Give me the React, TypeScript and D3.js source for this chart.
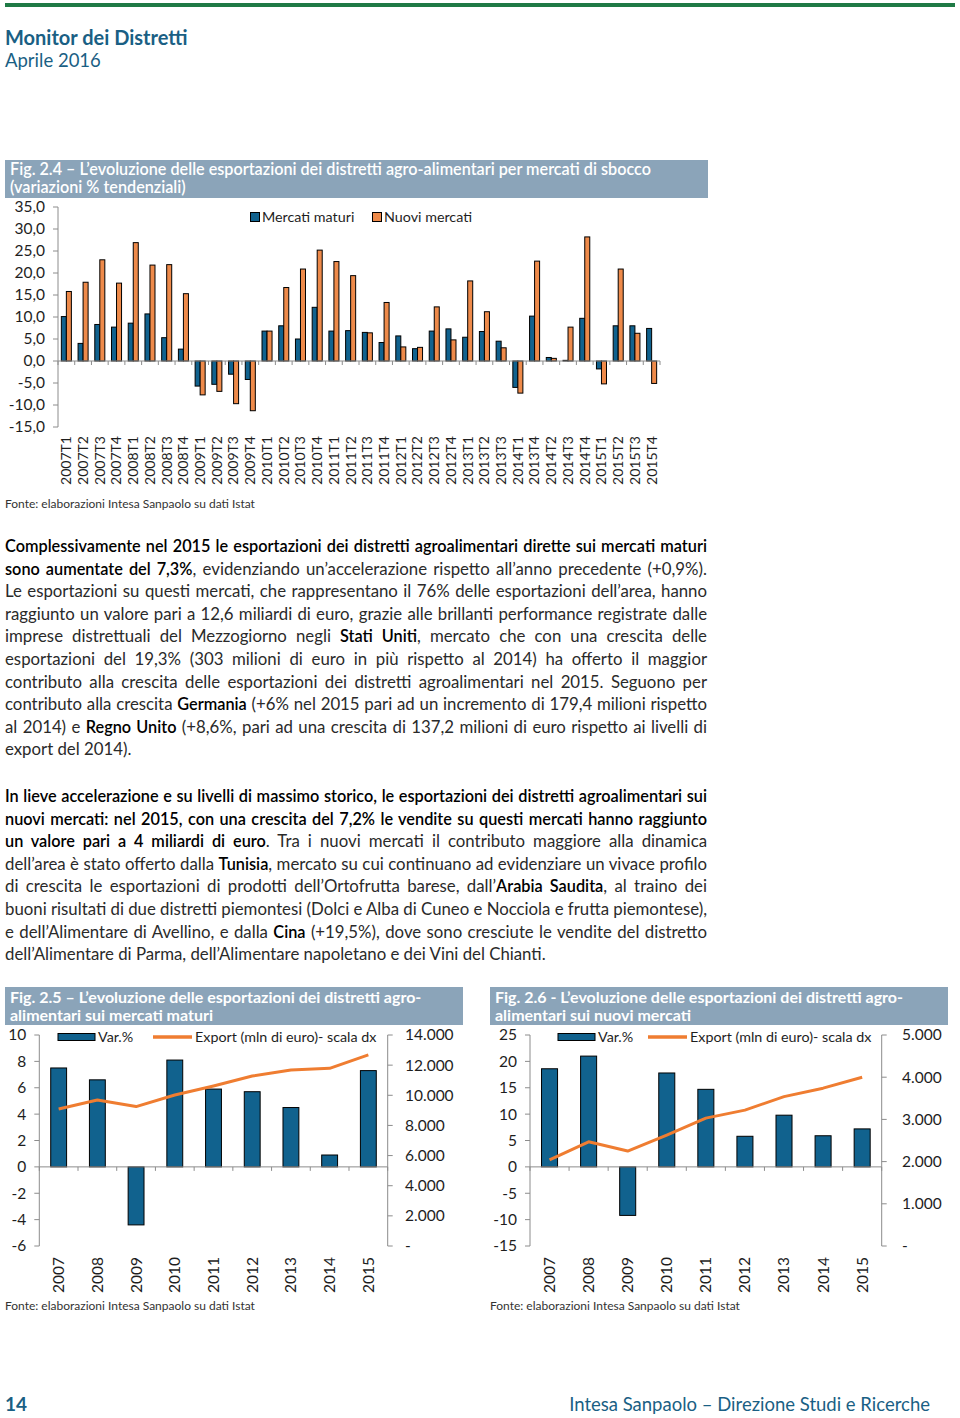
import React, { useLayoutEffect, useRef } from "react";
import * as d3 from "d3";

// ---------- DATA ----------
const quarters = [
  "2007T1", "2007T2", "2007T3", "2007T4",
  "2008T1", "2008T2", "2008T3", "2008T4",
  "2009T1", "2009T2", "2009T3", "2009T4",
  "2010T1", "2010T2", "2010T3", "2010T4",
  "2011T1", "2011T2", "2011T3", "2011T4",
  "2012T1", "2012T2", "2012T3", "2012T4",
  "2013T1", "2013T2", "2013T3", "2014T1", "2013T4",
  "2014T2", "2014T3", "2014T4",
  "2015T1", "2015T2", "2015T3", "2015T4",
];
const mercatiMaturiQ = [
  10.1, 4.0, 8.3, 7.7,
  8.6, 10.7, 5.3, 2.7,
  -5.7, -5.3, -3.0, -4.2,
  6.8, 8.0, 5.0, 12.2,
  6.8, 6.9, 6.5, 4.2,
  5.7, 2.8, 6.8, 7.3,
  5.4, 6.7, 4.5, -6.0, 10.2,
  0.8, 0.15, 9.7,
  -1.8, 8.0, 8.0, 7.4,
];
const nuoviMercatiQ = [
  15.8, 17.9, 23.0, 17.7,
  26.9, 21.8, 21.9, 15.3,
  -7.7, -6.9, -9.7, -11.3,
  6.8, 16.7, 20.9, 25.2,
  22.6, 19.4, 6.4, 13.3,
  3.2, 3.1, 12.3, 4.8,
  18.2, 11.2, 3.0, -7.3, 22.7,
  0.6, 7.7, 28.2,
  -5.2, 20.9, 6.3, -5.1,
];
const topTicks = [-15, -10, -5, 0, 5, 10, 15, 20, 25, 30, 35];

const years = ["2007", "2008", "2009", "2010", "2011", "2012", "2013", "2014", "2015"];
const maturiVar = [7.5, 6.6, -4.4, 8.1, 5.9, 5.7, 4.5, 0.9, 7.3];
const maturiExport = [9090, 9690, 9250, 10020, 10620, 11280, 11680, 11790, 12680];
const maturiLeftTicks = [-6, -4, -2, 0, 2, 4, 6, 8, 10];
const maturiRightTicks = [0, 2000, 4000, 6000, 8000, 10000, 12000, 14000];

const nuoviVar = [18.6, 21.0, -9.2, 17.8, 14.7, 5.8, 9.8, 5.9, 7.2];
const nuoviExport = [2040, 2470, 2250, 2630, 3030, 3220, 3540, 3740, 4000];
const nuoviLeftTicks = [-15, -10, -5, 0, 5, 10, 15, 20, 25];
const nuoviRightTicks = [0, 1000, 2000, 3000, 4000, 5000];

type Seg = [string, boolean];
const para1: Seg[][] = [
  [["Complessivamente nel 2015 le esportazioni dei distretti agroalimentari dirette sui mercati maturi", true]],
  [["sono aumentate del 7,3%", true], [", evidenziando un’accelerazione rispetto all’anno precedente (+0,9%).", false]],
  [["Le esportazioni su questi mercati, che rappresentano il 76% delle esportazioni dell’area, hanno", false]],
  [["raggiunto un valore pari a 12,6 miliardi di euro, grazie alle brillanti performance registrate dalle", false]],
  [["imprese distrettuali del Mezzogiorno negli ", false], ["Stati Uniti", true], [", mercato che con una crescita delle", false]],
  [["esportazioni del 19,3% (303 milioni di euro in più rispetto al 2014) ha offerto il maggior", false]],
  [["contributo alla crescita delle esportazioni dei distretti agroalimentari nel 2015. Seguono per", false]],
  [["contributo alla crescita ", false], ["Germania", true], [" (+6% nel 2015 pari ad un incremento di 179,4 milioni rispetto", false]],
  [["al 2014) e ", false], ["Regno Unito", true], [" (+8,6%, pari ad una crescita di 137,2 milioni di euro rispetto ai livelli di", false]],
  [["export del 2014).", false]],
];
const para2: Seg[][] = [
  [["In lieve accelerazione e su livelli di massimo storico, le esportazioni dei distretti agroalimentari sui", true]],
  [["nuovi mercati: nel 2015, con una crescita del 7,2% le vendite su questi mercati hanno raggiunto", true]],
  [["un valore pari a 4 miliardi di euro", true], [". Tra i nuovi mercati il contributo maggiore alla dinamica", false]],
  [["dell’area è stato offerto dalla ", false], ["Tunisia", true], [", mercato su cui continuano ad evidenziare un vivace profilo", false]],
  [["di crescita le esportazioni di prodotti dell’Ortofrutta barese, dall’", false], ["Arabia Saudita", true], [", al traino dei", false]],
  [["buoni risultati di due distretti piemontesi (Dolci e Alba di Cuneo e Nocciola e frutta piemontese),", false]],
  [["e dell’Alimentare di Avellino, e dalla ", false], ["Cina", true], [" (+19,5%), dove sono cresciute le vendite del distretto", false]],
  [["dell’Alimentare di Parma, dell’Alimentare napoletano e dei Vini del Chianti.", false]],
];

// ---------- STYLE ----------
const FONT = "Lato, 'Open Sans', sans-serif";
const BLUE = "#11628e";
const ORANGE = "#ee8a4a";
const LINE_OR = "#ef7d31";
const TITLE_BG = "#8ba4b9";
const TEAL = "#1a5f84";
const AXIS = "#8c8c8c";
const TXT = "#1e1e1e";

const loc = d3.formatLocale({ decimal: ",", thousands: ".", grouping: [3], currency: ["", ""], minus: "-" });
const fmt1 = loc.format(".1f");
const fmtInt = loc.format(",d");

function TopChart() {
  const x0 = d3.scaleBand<string>().domain(quarters).range([58, 660]).paddingInner(0.4).paddingOuter(0.2);
  const x1 = d3.scaleBand<string>().domain(["m", "n"]).range([0, x0.bandwidth()]);
  const y = d3.scaleLinear().domain([-15, 35]).range([427, 207]);
  const step = x0.step();
  const bounds = d3.range(quarters.length + 1).map((i) => 58 + i * step);
  const bar = (v: number) => ({ y: y(Math.max(0, v)), h: Math.abs(y(v) - y(0)) });
  return (
    <g fontFamily={FONT}>
      <rect x={5} y={160} width={703} height={38} fill={TITLE_BG} />
      <text x={10} y={175} fill="#fff" fontSize={16.2} fontWeight={600}>
        Fig. 2.4 – L’evoluzione delle esportazioni dei distretti agro-alimentari per mercati di sbocco
      </text>
      <text x={10} y={193} fill="#fff" fontSize={16.2} fontWeight={600}>
        (variazioni % tendenziali)
      </text>
      {/* y axis */}
      <line x1={58} x2={58} y1={y(35)} y2={y(-15)} stroke={AXIS} />
      {topTicks.map((t) => (
        <g key={t}>
          <line x1={53} x2={58} y1={y(t)} y2={y(t)} stroke={AXIS} />
          <text x={45} y={y(t)} dy="0.35em" textAnchor="end" fontSize={15.5} fill={TXT}>
            {fmt1(t)}
          </text>
        </g>
      ))}
      {/* bars */}
      {quarters.map((q, i) => {
        const m = bar(mercatiMaturiQ[i]);
        const n = bar(nuoviMercatiQ[i]);
        const bx = x0(q)!;
        return (
          <g key={q}>
            <rect x={bx + x1("m")!} y={m.y} width={x1.bandwidth()} height={Math.max(m.h, 0.5)} fill={BLUE} stroke="#000" strokeWidth={1} />
            <rect x={bx + x1("n")!} y={n.y} width={x1.bandwidth()} height={Math.max(n.h, 0.5)} fill={ORANGE} stroke="#000" strokeWidth={1} />
          </g>
        );
      })}
      {/* x axis at zero */}
      <line x1={58} x2={660} y1={y(0)} y2={y(0)} stroke={AXIS} />
      {bounds.map((b, i) => (
        <line key={i} x1={b} x2={b} y1={y(0)} y2={y(0) + 4} stroke={AXIS} />
      ))}
      {quarters.map((q) => {
        const cx = x0(q)! + x0.bandwidth() / 2;
        return (
          <text key={q} transform={`translate(${cx},436) rotate(-90)`} textAnchor="end" dy="0.35em" fontSize={14} fill={TXT}>
            {q}
          </text>
        );
      })}
      {/* legend */}
      <rect x={250.5} y={212.5} width={9} height={9} fill={BLUE} stroke="#000" />
      <text x={262} y={222} fontSize={14.3} fill={TXT}>Mercati maturi</text>
      <rect x={372.5} y={212.5} width={9} height={9} fill={ORANGE} stroke="#000" />
      <text x={384} y={222} fontSize={14.3} fill={TXT}>Nuovi mercati</text>
      <text x={5} y={508} fontSize={12} fill="#333">Fonte: elaborazioni Intesa Sanpaolo su dati Istat</text>
    </g>
  );
}

interface ComboProps {
  ox: number;
  title: [string, string];
  left: [number, number];
  right: [number, number];
  axL: number;
  axR: number;
  leftTicks: number[];
  rightTicks: number[];
  bars: number[];
  line: number[];
  legBar: number;
  legLine: number;
  rightLabelX: number;
}

function ComboChart(p: ComboProps) {
  const top = 1035;
  const bottom = 1246;
  const x = d3.scaleBand<string>().domain(years).range([p.axL, p.axR]).paddingInner(0.59).paddingOuter(0.295);
  const yL = d3.scaleLinear().domain(p.left).range([bottom, top]);
  const yR = d3.scaleLinear().domain(p.right).range([bottom, top]);
  const step = x.step();
  const bounds = d3.range(years.length + 1).map((i) => p.axL + i * step);
  const lineGen = d3
    .line<number>()
    .x((_, i) => x(years[i])! + x.bandwidth() / 2)
    .y((d) => yR(d));
  return (
    <g fontFamily={FONT}>
      <rect x={p.ox} y={987} width={458} height={38} fill={TITLE_BG} />
      <text x={p.ox + 5} y={1003} fill="#fff" fontSize={16} fontWeight={700}>{p.title[0]}</text>
      <text x={p.ox + 5} y={1021} fill="#fff" fontSize={16} fontWeight={700}>{p.title[1]}</text>
      {/* left axis */}
      <line x1={p.axL} x2={p.axL} y1={top} y2={bottom} stroke={AXIS} />
      {p.leftTicks.map((t) => (
        <g key={t}>
          <line x1={p.axL - 5} x2={p.axL} y1={yL(t)} y2={yL(t)} stroke={AXIS} />
          <text x={p.axL - 13} y={yL(t)} dy="0.35em" textAnchor="end" fontSize={15.5} fill={TXT}>
            {t}
          </text>
        </g>
      ))}
      {/* right axis */}
      <line x1={p.axR} x2={p.axR} y1={top} y2={bottom} stroke={AXIS} />
      {p.rightTicks.map((t) => (
        <g key={t}>
          <line x1={p.axR} x2={p.axR + 5} y1={yR(t)} y2={yR(t)} stroke={AXIS} />
          <text x={p.rightLabelX} y={yR(t)} dy="0.35em" fontSize={15.5} fill={TXT}>
            {t === 0 ? "-" : fmtInt(t)}
          </text>
        </g>
      ))}
      {/* bars */}
      {years.map((yr, i) => {
        const v = p.bars[i];
        return (
          <rect
            key={yr}
            x={x(yr)!}
            y={yL(Math.max(0, v))}
            width={x.bandwidth()}
            height={Math.abs(yL(v) - yL(0))}
            fill={BLUE}
            stroke="#000"
            strokeWidth={1}
          />
        );
      })}
      {/* x axis at zero */}
      <line x1={p.axL} x2={p.axR} y1={yL(0)} y2={yL(0)} stroke={AXIS} />
      {bounds.map((b, i) => (
        <line key={i} x1={b} x2={b} y1={yL(0)} y2={yL(0) + 4} stroke={AXIS} />
      ))}
      {/* line */}
      <path d={lineGen(p.line)!} fill="none" stroke={LINE_OR} strokeWidth={3} strokeLinejoin="round" />
      {years.map((yr) => (
        <text key={yr} transform={`translate(${x(yr)! + x.bandwidth() / 2},1257) rotate(-90)`} textAnchor="end" dy="0.35em" fontSize={15.5} fill={TXT}>
          {yr}
        </text>
      ))}
      {/* legend */}
      <rect x={p.legBar} y={1033.5} width={37} height={7} fill={BLUE} stroke="#000" />
      <text x={p.legBar + 40} y={1042} fontSize={14.3} fill={TXT}>Var.%</text>
      <line x1={p.legLine} x2={p.legLine + 39} y1={1037} y2={1037} stroke={LINE_OR} strokeWidth={3.5} />
      <text x={p.legLine + 42} y={1042} fontSize={14.3} fill={TXT}>Export (mln di euro)- scala dx</text>
      <text x={p.ox} y={1310} fontSize={12} fill="#333">Fonte: elaborazioni Intesa Sanpaolo su dati Istat</text>
    </g>
  );
}

function Paragraph({ lines, y0, lh }: { lines: Seg[][]; y0: number; lh: number }) {
  const refs = useRef<(SVGTextElement | null)[]>([]);
  const width = 702;
  useLayoutEffect(() => {
    const run = () => {
      refs.current.forEach((el, i) => {
        if (!el || i === lines.length - 1) return;
        el.style.wordSpacing = "0px";
        const nat = el.getComputedTextLength();
        const txt = el.textContent || "";
        const spaces = (txt.match(/ /g) || []).length;
        if (spaces > 0) el.style.wordSpacing = `${(width - nat) / spaces}px`;
      });
    };
    run();
    (document as any).fonts?.ready?.then(run);
  }, []);
  return (
    <g fontFamily={FONT} fontSize={16.8} fill="#2a2a2a">
      {lines.map((segs, i) => (
        <text key={i} ref={(el) => { refs.current[i] = el; }} x={5} y={y0 + i * lh}>
          {segs.map(([t, b], j) => (
            <tspan key={j} fontWeight={b ? 600 : 400} fontSize={b ? 16.3 : 16.8} fill={b ? "#000" : "#2a2a2a"}>{t}</tspan>
          ))}
        </text>
      ))}
    </g>
  );
}

export default function App() {
  useLayoutEffect(() => {
    document.body.style.margin = "0";
  }, []);
  return (
    <svg width={960} height={1418} viewBox="0 0 960 1418" style={{ display: "block", background: "#fff" }}>
      <rect x={0} y={0} width={960} height={1418} fill="#fff" />
      {/* header */}
      <rect x={5} y={3} width={950} height={4} fill="#1f7a45" />
      <text x={5} y={45} fontFamily={FONT} fontSize={20} fontWeight={700} fill={TEAL}>Monitor dei Distretti</text>
      <text x={5} y={67} fontFamily={FONT} fontSize={18.5} fill={TEAL}>Aprile 2016</text>

      <TopChart />

      <Paragraph lines={para1} y0={552} lh={22.6} />
      <Paragraph lines={para2} y0={802} lh={22.6} />

      <ComboChart
        ox={5}
        title={["Fig. 2.5 – L’evoluzione delle esportazioni dei distretti agro-", "alimentari sui mercati maturi"]}
        left={[-6, 10]}
        right={[0, 14000]}
        axL={39.3}
        axR={387.7}
        leftTicks={maturiLeftTicks}
        rightTicks={maturiRightTicks}
        bars={maturiVar}
        line={maturiExport}
        legBar={58}
        legLine={153}
        rightLabelX={405}
      />
      <ComboChart
        ox={490}
        title={["Fig. 2.6 - L’evoluzione delle esportazioni dei distretti agro-", "alimentari sui nuovi mercati"]}
        left={[-15, 25]}
        right={[0, 5000]}
        axL={530}
        axR={881.7}
        leftTicks={nuoviLeftTicks}
        rightTicks={nuoviRightTicks}
        bars={nuoviVar}
        line={nuoviExport}
        legBar={558}
        legLine={648}
        rightLabelX={902}
      />

      {/* footer */}
      <text x={5} y={1411} fontFamily={FONT} fontSize={19} fontWeight={700} fill={TEAL}>14</text>
      <text x={930} y={1411} textAnchor="end" fontFamily={FONT} fontSize={18.5} fill={TEAL}>
        Intesa Sanpaolo – Direzione Studi e Ricerche
      </text>
    </svg>
  );
}
